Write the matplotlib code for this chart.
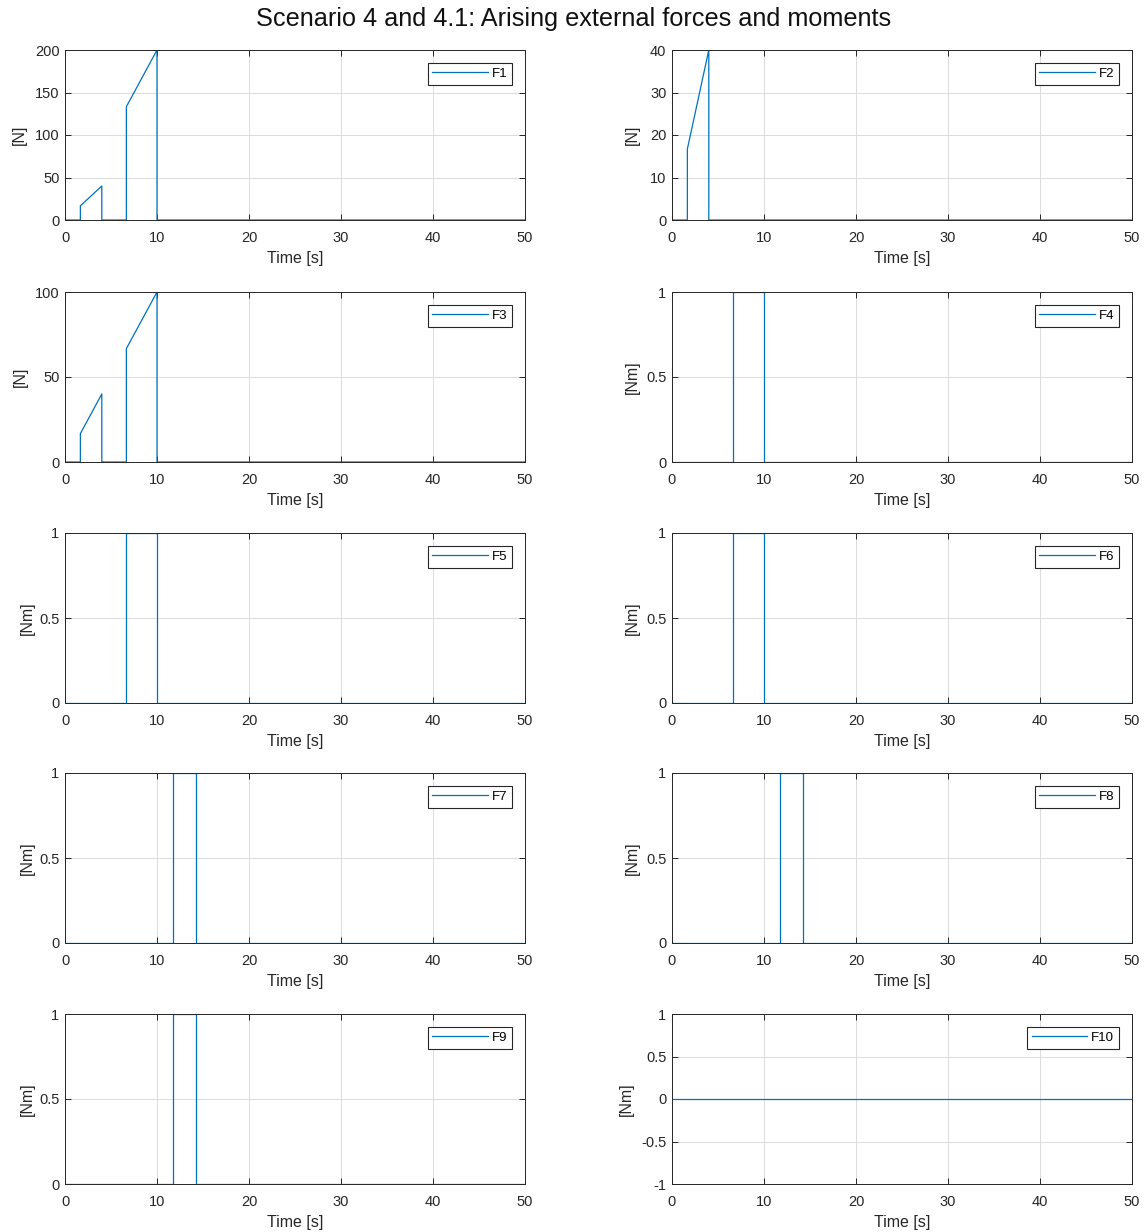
import matplotlib
matplotlib.use("Agg")
import matplotlib.pyplot as plt

plt.rcParams['font.family'] = ['Liberation Sans', 'DejaVu Sans']

title = "Scenario 4 and 4.1: Arising external forces and moments"
names = ["F1", "F2", "F3", "F4", "F5", "F6", "F7", "F8", "F9", "F10"]
units = ["[N]", "[N]", "[N]", "[Nm]", "[Nm]", "[Nm]", "[Nm]", "[Nm]", "[Nm]", "[Nm]"]

F1_t = [0, 1.67, 1.67, 4, 4, 6.67, 6.67, 10, 10, 50]
F1_v = [0, 0, 16.7, 40, 0, 0, 133.3, 200, 0, 0]
F2_t = [0, 1.67, 1.67, 4, 4, 50]
F2_v = [0, 0, 16.7, 40, 0, 0]
F3_t = [0, 1.67, 1.67, 4, 4, 6.67, 6.67, 10, 10, 50]
F3_v = [0, 0, 16.7, 40, 0, 0, 66.7, 100, 0, 0]
F4_t = [0, 6.67, 6.67, 10, 10, 50]
F4_v = [0, 0, 1, 1, 0, 0]
F5_t = [0, 6.67, 6.67, 10, 10, 50]
F5_v = [0, 0, 1, 1, 0, 0]
F6_t = [0, 6.67, 6.67, 10, 10, 50]
F6_v = [0, 0, 1, 1, 0, 0]
F7_t = [0, 11.7, 11.7, 14.2, 14.2, 50]
F7_v = [0, 0, 1, 1, 0, 0]
F8_t = [0, 11.7, 11.7, 14.2, 14.2, 50]
F8_v = [0, 0, 1, 1, 0, 0]
F9_t = [0, 11.7, 11.7, 14.2, 14.2, 50]
F9_v = [0, 0, 1, 1, 0, 0]
F10_t = [0, 50]
F10_v = [0, 0]

series_t = [F1_t, F2_t, F3_t, F4_t, F5_t, F6_t, F7_t, F8_t, F9_t, F10_t]
series_v = [F1_v, F2_v, F3_v, F4_v, F5_v, F6_v, F7_v, F8_v, F9_v, F10_v]

yticks = [
    [0, 50, 100, 150, 200],
    [0, 10, 20, 30, 40],
    [0, 50, 100],
    [0, 0.5, 1], [0, 0.5, 1], [0, 0.5, 1], [0, 0.5, 1], [0, 0.5, 1], [0, 0.5, 1],
    [-1, -0.5, 0, 0.5, 1],
]
yticklabels = [
    ["0", "50", "100", "150", "200"],
    ["0", "10", "20", "30", "40"],
    ["0", "50", "100"],
    ["0", "0.5", "1"], ["0", "0.5", "1"], ["0", "0.5", "1"],
    ["0", "0.5", "1"], ["0", "0.5", "1"], ["0", "0.5", "1"],
    ["-1", "-0.5", "0", "0.5", "1"],
]
xticks = [0, 10, 20, 30, 40, 50]

W, H = 1148, 1232
fig = plt.figure(figsize=(W / 100, H / 100), dpi=100)
fig.patch.set_facecolor("white")

lefts = [65, 672]
tops = [50, 292, 533, 773, 1014]
aw, ah = 460, 170
ylabel_x = [-0.083, -0.070, -0.081, -0.069, -0.066, -0.069, -0.066, -0.069, -0.066, -0.083]

line_color = "#0072BD"
edge = "#262626"

for i in range(10):
    r, c = divmod(i, 2)
    ax = fig.add_axes([lefts[c] / W, 1 - (tops[r] + ah) / H, aw / W, ah / H])
    ax.plot(series_t[i], series_v[i], color=line_color, lw=0.9, label=names[i])
    ax.set_xlim(0, 50)
    ax.set_ylim(yticks[i][0], yticks[i][-1])
    ax.set_xticks(xticks)
    ax.set_xticklabels([str(x) for x in xticks])
    ax.set_yticks(yticks[i])
    ax.set_yticklabels(yticklabels[i])
    ax.grid(True, color="#dcdcdc", lw=0.7)
    ax.set_axisbelow(True)
    ax.tick_params(direction="in", top=True, right=True, labelsize=10.5,
                   colors=edge, length=4, width=0.7)
    ax.tick_params(axis="x", pad=8)
    ax.tick_params(axis="y", pad=4)
    for s in ax.spines.values():
        s.set_color(edge)
        s.set_linewidth(0.7)
    ax.set_xlabel("Time [s]", fontsize=11.5, color="#262626", labelpad=4)
    ax.set_ylabel(units[i], fontsize=11.5, color="#262626")
    ax.yaxis.set_label_coords(ylabel_x[i], 0.5)
    leg = ax.legend(loc="upper right", fontsize=9.5, frameon=True, fancybox=False,
                    edgecolor=edge, handlelength=4.2, borderpad=0.35,
                    borderaxespad=1.0, handletextpad=0.3)
    leg.get_frame().set_linewidth(0.8)
    leg.get_frame().set_alpha(1)

fig.text(0.5, 1 - 19 / H, title, ha="center", va="center", fontsize=18.2, color="#111111")

fig.savefig("out.png", dpi=100)
